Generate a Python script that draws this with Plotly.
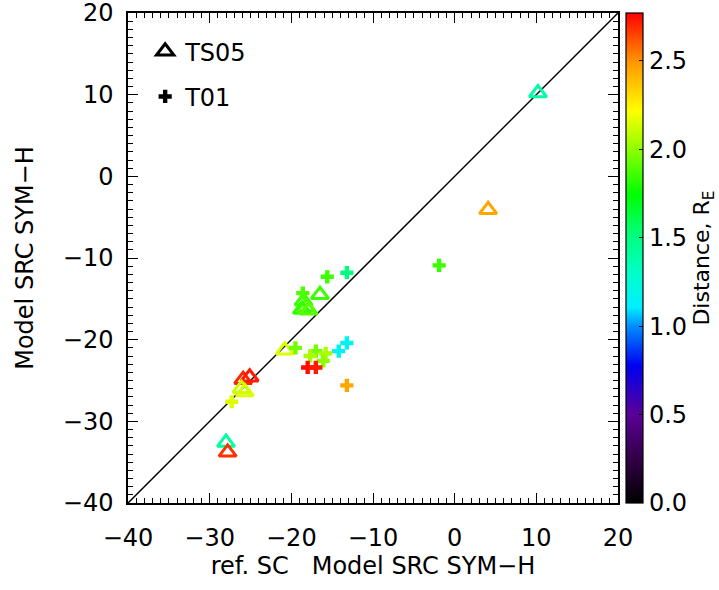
import plotly.graph_objects as go

# TS05 model points: reference SC value, model SYM-H, distance (R_E)
ts05_x = [10.2, 4.1, -16.5, -18.5, -18.2, -18.7, -17.9, -20.8, -25.9, -25.1, -25.7, -26.1, -28.0, -27.8]
ts05_y = [10.2, -4.1, -14.5, -15.3, -16.0, -16.3, -16.4, -21.3, -24.9, -24.6, -26.4, -26.0, -32.6, -33.8]
ts05_d = [1.40, 2.45, 1.85, 1.85, 1.88, 1.83, 1.90, 2.15, 2.70, 2.72, 2.15, 2.12, 1.42, 2.68]

# T01 model points
t01_x = [-13.2, -15.6, -18.6, -1.9, -19.5, -17.0, -17.7, -15.8, -16.1, -18.0, -17.0, -13.2, -14.2, -13.2, -27.3]
t01_y = [-11.8, -12.3, -14.3, -10.9, -21.0, -21.4, -22.0, -21.7, -22.6, -23.4, -23.4, -20.4, -21.4, -25.6, -27.6]
t01_d = [1.50, 1.85, 1.88, 1.85, 1.95, 1.95, 2.05, 2.05, 2.00, 2.75, 2.72, 1.15, 1.15, 2.45, 2.15]

axis_range = [-40, 20]
axis_ticks = [-40, -30, -20, -10, 0, 10, 20]
cbar_max = 2.77
cbar_ticks = [0.0, 0.5, 1.0, 1.5, 2.0, 2.5]

# rainbow colour table, black at zero through purple, blue, cyan, green, yellow to red
rainbow = [
    [0.00, "rgb(0,0,0)"],
    [0.09, "rgb(50,0,70)"],
    [0.18, "rgb(90,0,150)"],
    [0.28, "rgb(0,0,240)"],
    [0.36, "rgb(0,140,255)"],
    [0.40, "rgb(0,240,255)"],
    [0.47, "rgb(0,255,200)"],
    [0.55, "rgb(0,255,120)"],
    [0.63, "rgb(0,255,0)"],
    [0.72, "rgb(140,255,0)"],
    [0.80, "rgb(255,255,0)"],
    [0.90, "rgb(255,150,0)"],
    [1.00, "rgb(255,0,0)"],
]

FONT = "DejaVu Sans"
fig = go.Figure()

# one-to-one reference line
fig.add_trace(go.Scatter(x=axis_range, y=axis_range, mode="lines",
                         line=dict(color="black", width=1.5),
                         showlegend=False, hoverinfo="skip"))

fig.add_trace(go.Scatter(
    x=ts05_x, y=ts05_y, mode="markers", showlegend=False,
    marker=dict(symbol="triangle-up-open", size=15, color=ts05_d,
                coloraxis="coloraxis", line=dict(width=3))))

fig.add_trace(go.Scatter(
    x=t01_x, y=t01_y, mode="markers", showlegend=False,
    marker=dict(symbol="cross", size=11, color=t01_d,
                coloraxis="coloraxis", line=dict(width=0))))

# legend entries in black
fig.add_trace(go.Scatter(x=[None], y=[None], mode="markers", name="TS05",
                         legendgroup="a",
                         marker=dict(symbol="triangle-up-open", size=15,
                                     color="black", line=dict(width=3, color="black"))))
fig.add_trace(go.Scatter(x=[None], y=[None], mode="markers", name="T01",
                         legendgroup="b",
                         marker=dict(symbol="cross", size=11, color="black",
                                     line=dict(width=0))))

W, H = 719, 590
L, R, T, B = 128, 101, 13, 87
pw = W - L - R

axis_common = dict(
    range=axis_range, tickvals=axis_ticks, showgrid=False, zeroline=False,
    showline=True, linecolor="black", linewidth=1.5, mirror="allticks",
    ticks="inside", ticklen=10, tickwidth=1.2, tickcolor="black",
    minor=dict(dtick=1, ticks="inside", ticklen=5, tickwidth=1, tickcolor="black"),
    tickfont=dict(family=FONT, size=24, color="black"),
    ticklabeloverflow="allow",
)

fig.update_layout(
    width=W, height=H,
    margin=dict(l=L, r=R, t=T, b=B, autoexpand=False),
    plot_bgcolor="white", paper_bgcolor="white",
    font=dict(family=FONT, color="black"),
    xaxis=dict(**axis_common, ticklabelstandoff=12,
               title=dict(text="ref. SC   Model SRC SYM\u2212H",
                          font=dict(family=FONT, size=24), standoff=6)),
    yaxis=dict(**axis_common, ticklabelstandoff=8,
               title=dict(text="Model SRC SYM\u2212H",
                          font=dict(family=FONT, size=24), standoff=22)),
    coloraxis=dict(
        colorscale=rainbow, cmin=0, cmax=cbar_max,
        colorbar=dict(
            x=1 + 8 / pw, xanchor="left", xpad=0,
            y=0.5, yanchor="middle", len=1, lenmode="fraction", ypad=0,
            thickness=17, outlinewidth=1.2, outlinecolor="black",
            tickvals=cbar_ticks, tickformat=".1f",
            ticks="inside", ticklen=4, tickcolor="black",
            tickfont=dict(family=FONT, size=24, color="black"),
            title=dict(text="Distance, R<sub>E</sub>", side="right",
                       font=dict(family=FONT, size=22, color="black")),
        ),
    ),
    legend=dict(x=0.035, y=0.967, xanchor="left", yanchor="top",
                bgcolor="rgba(0,0,0,0)", tracegroupgap=11,
                font=dict(family=FONT, size=24, color="black")),
)

fig.write_html("out.html")
